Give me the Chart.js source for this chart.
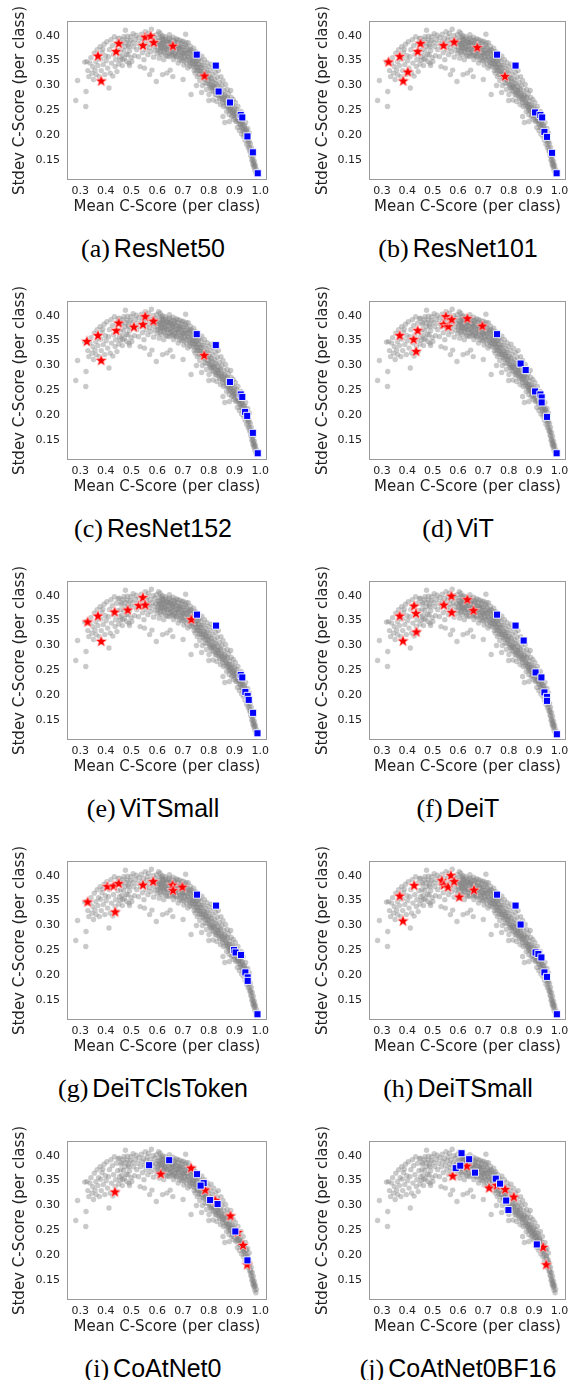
<!DOCTYPE html>
<html><head><meta charset="utf-8">
<script src="https://cdn.jsdelivr.net/npm/chart.js@4/dist/chart.umd.min.js"></script>
<style>
html,body{margin:0;padding:0;background:#fff;}
body{width:574px;height:1380px;position:relative;overflow:hidden;}
canvas.panel{position:absolute;}
.cap{position:absolute;width:287px;text-align:center;height:30px;line-height:30px;white-space:nowrap;color:#000;}
.cap .lt{font-family:"Liberation Serif";font-size:26px;}
.cap .nm{font-family:"Liberation Sans";font-size:25px;}
</style></head><body>
<script>
const panelLetters = ['a','b','c','d','e','f','g','h','i','j'];
const panelNames = ['ResNet50','ResNet101','ResNet152','ViT','ViTSmall','DeiT','DeiTClsToken','DeiTSmall','CoAtNet0','CoAtNet0BF16'];
const meanTicks = [0.3,0.4,0.5,0.6,0.7,0.8,0.9,1.0];
const stdevTicks = [0.15,0.20,0.25,0.30,0.35,0.40];
const xLabel = 'Mean C-Score (per class)';
const yLabel = 'Stdev C-Score (per class)';

// all classes (grey cloud) - same in every panel
const cloudPoints = [
[0.283,0.270],[0.290,0.310],[0.322,0.258],[0.323,0.288],[0.318,0.347],[0.326,0.348],[0.330,0.330],[0.334,0.318],[0.338,0.345],[0.342,0.356],
[0.346,0.325],[0.349,0.338],[0.352,0.312],[0.355,0.365],[0.358,0.331],[0.361,0.348],[0.362,0.322],[0.366,0.372],[0.369,0.340],[0.372,0.356],
[0.375,0.318],[0.378,0.378],[0.380,0.353],[0.382,0.330],[0.385,0.366],[0.388,0.373],[0.390,0.342],[0.393,0.383],[0.396,0.322],[0.398,0.360],
[0.401,0.350],[0.404,0.388],[0.407,0.335],[0.410,0.358],[0.412,0.295],[0.414,0.372],[0.417,0.325],[0.420,0.392],[0.422,0.345],[0.425,0.380],
[0.427,0.319],[0.430,0.362],[0.433,0.398],[0.436,0.338],[0.438,0.352],[0.441,0.385],[0.443,0.328],[0.446,0.370],[0.448,0.394],[0.450,0.343],
[0.453,0.358],[0.456,0.351],[0.459,0.383],[0.462,0.361],[0.464,0.340],[0.467,0.392],[0.469,0.371],[0.472,0.355],[0.476,0.411],[0.478,0.386],
[0.481,0.348],[0.484,0.399],[0.486,0.362],[0.489,0.378],[0.492,0.340],[0.495,0.390],[0.498,0.356],
[0.452,0.395],[0.458,0.372],[0.461,0.386],[0.466,0.352],[0.470,0.398],[0.474,0.378],[0.480,0.363],[0.483,0.391],[0.487,0.381],[0.490,0.345],[0.492,0.370],[0.497,0.398],
[0.501,0.348],[0.503,0.386],[0.506,0.404],[0.508,0.378],[0.511,0.360],[0.514,0.393],[0.518,0.401],[0.520,0.372],[0.523,0.385],[0.527,0.358],
[0.529,0.396],[0.533,0.338],[0.535,0.378],[0.538,0.403],[0.540,0.388],[0.542,0.366],[0.546,0.394],[0.548,0.352],[0.551,0.381],[0.553,0.408],
[0.556,0.372],[0.558,0.390],[0.561,0.398],[0.563,0.362],[0.566,0.405],[0.568,0.383],[0.570,0.376],[0.572,0.392],[0.575,0.368],[0.577,0.413],
[0.579,0.331],[0.581,0.386],[0.583,0.400],[0.585,0.357],[0.587,0.379],[0.590,0.395],[0.592,0.371],[0.594,0.384],[0.596,0.308],[0.597,0.402],[0.599,0.364],
[0.601,0.390],[0.603,0.377],[0.605,0.408],[0.607,0.355],[0.608,0.385],[0.610,0.396],[0.611,0.405],[0.613,0.370],[0.615,0.381],[0.617,0.362],
[0.618,0.393],[0.620,0.400],[0.622,0.374],[0.624,0.391],[0.625,0.352],[0.627,0.384],[0.629,0.366],[0.631,0.398],[0.633,0.378],[0.635,0.388],
[0.637,0.325],[0.638,0.359],[0.640,0.372],[0.642,0.393],[0.644,0.381],[0.646,0.365],[0.647,0.402],[0.649,0.386],
[0.650,0.331],[0.652,0.375],[0.654,0.391],[0.656,0.360],[0.657,0.383],[0.659,0.370],[0.661,0.397],[0.663,0.352],[0.665,0.378],[0.667,0.388],
[0.669,0.365],[0.671,0.381],[0.673,0.394],[0.675,0.357],[0.677,0.372],[0.679,0.386],[0.681,0.345],[0.683,0.368],[0.685,0.379],[0.687,0.391],
[0.689,0.360],[0.691,0.374],[0.693,0.384],[0.695,0.350],[0.697,0.366],[0.699,0.377],
[0.701,0.389],[0.703,0.341],[0.705,0.359],[0.707,0.371],[0.709,0.382],[0.710,0.403],[0.712,0.352],[0.714,0.364],[0.716,0.375],[0.718,0.335],
[0.720,0.386],[0.722,0.357],[0.724,0.368],[0.726,0.346],[0.728,0.379],[0.730,0.360],[0.731,0.282],[0.733,0.371],[0.735,0.338],[0.737,0.352],
[0.739,0.364],[0.741,0.375],[0.743,0.330],[0.745,0.345],[0.747,0.325],[0.748,0.358],[0.749,0.368],
[0.751,0.338],[0.753,0.350],[0.755,0.318],[0.757,0.362],[0.759,0.331],[0.761,0.343],[0.763,0.355],[0.765,0.310],[0.767,0.324],[0.769,0.336],
[0.771,0.348],[0.773,0.359],[0.775,0.300],[0.777,0.317],[0.779,0.329],[0.781,0.341],[0.783,0.352],[0.785,0.305],[0.787,0.322],[0.789,0.334],
[0.791,0.292],[0.793,0.346],[0.795,0.313],[0.797,0.326],[0.799,0.338],
[0.801,0.282],[0.803,0.300],[0.805,0.318],[0.807,0.330],[0.809,0.343],[0.811,0.290],[0.813,0.308],[0.815,0.322],[0.817,0.271],[0.819,0.335],
[0.821,0.297],[0.823,0.312],[0.825,0.282],[0.827,0.326],[0.829,0.303],[0.831,0.268],[0.833,0.316],[0.835,0.290],[0.837,0.330],[0.839,0.278],
[0.841,0.306],[0.843,0.295],[0.845,0.262],[0.847,0.318],[0.849,0.284],
[0.851,0.300],[0.853,0.272],[0.855,0.310],[0.857,0.258],[0.859,0.290],[0.862,0.226],[0.863,0.280],[0.865,0.302],[0.867,0.266],[0.869,0.248],
[0.871,0.292],[0.873,0.275],[0.875,0.258],[0.877,0.284],[0.879,0.242],[0.881,0.268],[0.883,0.252],[0.885,0.290],[0.887,0.276],[0.889,0.238],
[0.891,0.261],[0.893,0.248],[0.895,0.272],[0.897,0.232],[0.899,0.256],
[0.901,0.244],[0.903,0.266],[0.905,0.228],[0.907,0.252],[0.909,0.238],[0.911,0.216],[0.913,0.258],[0.915,0.230],[0.917,0.244],[0.919,0.210],
[0.921,0.235],[0.923,0.222],[0.925,0.248],[0.927,0.203],[0.929,0.228],[0.931,0.214],[0.933,0.238],[0.935,0.198],[0.937,0.220],[0.939,0.207],
[0.941,0.190],[0.943,0.226],[0.945,0.212],[0.947,0.182],[0.949,0.200],
[0.951,0.214],[0.953,0.175],[0.955,0.192],[0.957,0.205],[0.959,0.168],[0.961,0.184],[0.963,0.160],[0.965,0.176],[0.967,0.150],[0.969,0.166],
[0.971,0.142],[0.973,0.158],[0.975,0.136],[0.977,0.148],[0.979,0.130],[0.981,0.140],[0.983,0.125],[0.985,0.132],
[0.602,0.372],[0.606,0.389],[0.610,0.366],[0.614,0.384],[0.618,0.376],[0.622,0.392],[0.626,0.369],[0.630,0.382],[0.634,0.361],[0.638,0.387],
[0.642,0.374],[0.646,0.358],[0.650,0.384],[0.654,0.368],[0.658,0.379],[0.662,0.362],[0.666,0.385],[0.670,0.372],[0.674,0.359],[0.678,0.380],
[0.682,0.366],[0.686,0.352],[0.690,0.378],[0.694,0.361],[0.698,0.371],[0.702,0.350],[0.706,0.366],[0.710,0.378],[0.714,0.344],[0.718,0.358],
[0.722,0.370],[0.726,0.339],[0.730,0.352],[0.734,0.362],[0.738,0.343],[0.742,0.355],[0.746,0.336],[0.750,0.348],[0.754,0.330],[0.758,0.343],
[0.762,0.322],[0.766,0.337],[0.770,0.328],[0.774,0.340],[0.778,0.315],[0.782,0.330],[0.786,0.312],[0.790,0.325],[0.794,0.304],[0.798,0.318],
[0.802,0.309],[0.806,0.296],[0.810,0.314],[0.814,0.300],[0.818,0.288],[0.822,0.305],[0.826,0.292],[0.830,0.281],[0.834,0.298],[0.838,0.285],
[0.842,0.274],[0.846,0.291],[0.850,0.279],[0.854,0.266],[0.858,0.282],[0.862,0.270],[0.866,0.259],[0.870,0.276],[0.874,0.263],[0.878,0.251],
[0.882,0.262],[0.886,0.248],[0.890,0.257],[0.894,0.240],[0.898,0.250],[0.902,0.236],[0.906,0.246],[0.910,0.229],[0.914,0.240],[0.918,0.223],
[0.922,0.232],[0.926,0.216],[0.930,0.226],[0.934,0.208],[0.938,0.218],[0.942,0.200],[0.946,0.210],[0.950,0.192],[0.954,0.184],[0.958,0.176],
[0.962,0.170],[0.966,0.158],[0.970,0.152],[0.974,0.144],[0.978,0.138],
[0.604,0.381],[0.612,0.375],[0.620,0.386],[0.628,0.377],[0.636,0.372],[0.644,0.386],[0.652,0.366],[0.660,0.376],[0.668,0.360],[0.676,0.369],
[0.684,0.375],[0.692,0.356],[0.700,0.364],[0.708,0.355],[0.716,0.366],[0.724,0.349],[0.732,0.344],[0.740,0.350],[0.748,0.342],[0.756,0.336],
[0.764,0.330],[0.772,0.322],[0.780,0.322],[0.788,0.318],[0.796,0.311],[0.804,0.303],[0.812,0.296],[0.820,0.297],[0.828,0.286],[0.836,0.290],
[0.844,0.281],[0.852,0.273],[0.860,0.276],[0.868,0.265],[0.876,0.257],[0.884,0.255],[0.892,0.246],[0.900,0.242],[0.908,0.238],[0.916,0.231],
[0.924,0.224],[0.932,0.217],[0.940,0.209],[0.948,0.197],[0.956,0.188],[0.964,0.166],[0.972,0.148],[0.976,0.140],
[0.616,0.398],[0.632,0.394],[0.648,0.395],[0.664,0.391],[0.680,0.392],[0.696,0.388],[0.712,0.386],[0.728,0.372],[0.744,0.366],[0.760,0.352],
[0.550,0.335],[0.570,0.322],[0.620,0.322],[0.660,0.318],[0.700,0.312],[0.752,0.300],[0.772,0.286],[0.800,0.270],[0.855,0.238],[0.880,0.228]
];

// highlighted classes (red stars) per panel
const starPoints = [
[[0.369,0.360],[0.382,0.310],[0.440,0.369],[0.450,0.385],[0.544,0.381],[0.553,0.398],[0.574,0.400],[0.586,0.387],[0.660,0.380],[0.783,0.320]],
[[0.326,0.348],[0.370,0.359],[0.402,0.328],[0.384,0.310],[0.441,0.369],[0.452,0.385],[0.543,0.381],[0.585,0.388],[0.676,0.377],[0.785,0.319]],
[[0.326,0.349],[0.369,0.361],[0.382,0.311],[0.440,0.371],[0.450,0.386],[0.509,0.378],[0.544,0.383],[0.553,0.399],[0.585,0.390],[0.782,0.321]],
[[0.370,0.361],[0.425,0.353],[0.441,0.371],[0.435,0.329],[0.552,0.399],[0.543,0.383],[0.562,0.379],[0.575,0.393],[0.637,0.395],[0.696,0.380]],
[[0.329,0.348],[0.369,0.360],[0.382,0.309],[0.434,0.368],[0.485,0.372],[0.528,0.381],[0.544,0.397],[0.553,0.382],[0.732,0.353]],
[[0.370,0.360],[0.383,0.310],[0.427,0.380],[0.434,0.365],[0.436,0.328],[0.544,0.382],[0.574,0.400],[0.575,0.367],[0.637,0.393],[0.661,0.371]],
[[0.329,0.348],[0.406,0.379],[0.430,0.380],[0.450,0.385],[0.436,0.328],[0.544,0.382],[0.584,0.389],[0.659,0.382],[0.661,0.371],[0.697,0.378]],
[[0.370,0.360],[0.383,0.310],[0.427,0.381],[0.536,0.391],[0.544,0.382],[0.561,0.378],[0.572,0.401],[0.585,0.389],[0.605,0.358],[0.663,0.372]],
[[0.435,0.328],[0.613,0.364],[0.731,0.376],[0.786,0.332],[0.825,0.311],[0.884,0.280],[0.912,0.247],[0.933,0.221],[0.949,0.182]],
[[0.579,0.360],[0.635,0.380],[0.723,0.336],[0.753,0.341],[0.786,0.333],[0.820,0.318],[0.936,0.217],[0.948,0.182]]
];

// highlighted classes (blue squares) per panel
const squarePoints = [
[[0.753,0.362],[0.827,0.340],[0.838,0.288],[0.882,0.266],[0.924,0.241],[0.930,0.236],[0.950,0.198],[0.971,0.166],[0.990,0.124]],
[[0.754,0.362],[0.827,0.340],[0.904,0.246],[0.925,0.241],[0.932,0.236],[0.941,0.207],[0.951,0.197],[0.971,0.165],[0.989,0.124]],
[[0.753,0.363],[0.827,0.341],[0.882,0.267],[0.924,0.242],[0.930,0.237],[0.941,0.207],[0.949,0.199],[0.971,0.165],[0.990,0.124]],
[[0.754,0.363],[0.847,0.304],[0.867,0.291],[0.904,0.248],[0.925,0.242],[0.930,0.236],[0.930,0.226],[0.951,0.197],[0.989,0.124]],
[[0.754,0.362],[0.828,0.340],[0.924,0.241],[0.930,0.236],[0.942,0.207],[0.951,0.199],[0.955,0.191],[0.972,0.165],[0.989,0.124]],
[[0.754,0.362],[0.827,0.340],[0.859,0.310],[0.906,0.246],[0.929,0.236],[0.941,0.206],[0.951,0.197],[0.951,0.189],[0.990,0.122]],
[[0.754,0.362],[0.828,0.340],[0.898,0.251],[0.904,0.246],[0.925,0.241],[0.942,0.206],[0.951,0.196],[0.951,0.189],[0.989,0.122]],
[[0.754,0.362],[0.827,0.340],[0.847,0.302],[0.906,0.246],[0.917,0.243],[0.929,0.236],[0.941,0.206],[0.951,0.197],[0.990,0.122]],
[[0.568,0.381],[0.646,0.391],[0.754,0.363],[0.780,0.345],[0.768,0.340],[0.805,0.311],[0.834,0.303],[0.903,0.248],[0.950,0.190]],
[[0.614,0.405],[0.591,0.375],[0.609,0.380],[0.644,0.393],[0.667,0.366],[0.749,0.354],[0.766,0.344],[0.790,0.310],[0.799,0.291],[0.911,0.222]]
];

const toXY = arr => arr.map(p => ({x: p[0], y: p[1]}));

function makeStar() {
  const c = document.createElement('canvas');
  c.width = 16; c.height = 16;
  const g = c.getContext('2d');
  const R = 6.6, r = R * 0.40;
  g.beginPath();
  for (let i = 0; i < 10; i++) {
    const a = -Math.PI / 2 + i * Math.PI / 5;
    const rad = (i % 2) ? r : R;
    g.lineTo(8 + rad * Math.cos(a), 8.5 + rad * Math.sin(a));
  }
  g.closePath();
  g.fillStyle = '#ff0000';
  g.fill();
  g.lineWidth = 0.7;
  g.strokeStyle = 'rgba(255,255,255,0.85)';
  g.stroke();
  return c;
}
const starImg = makeStar();

const framePlugin = {
  id: 'frame',
  afterDatasetsDraw(chart) {
    const {ctx, chartArea: a} = chart;
    ctx.save();
    ctx.strokeStyle = '#9a9a9a';
    ctx.lineWidth = 1;
    ctx.strokeRect(a.left + 0.5, a.top + 0.5, a.right - a.left - 1, a.bottom - a.top - 1);
    ctx.restore();
  }
};

const rowTops = [0, 280, 560, 840, 1120];
const tickFont = {family: 'DejaVu Sans', size: 11};
const titleFont = {family: 'DejaVu Sans', size: 15, lineHeight: 1.2};
const textColor = '#222222';

for (let i = 0; i < 10; i++) {
  const col = i % 2, row = Math.floor(i / 2);
  const cv = document.createElement('canvas');
  cv.className = 'panel';
  cv.width = 287; cv.height = 230;
  cv.style.left = (col * 287) + 'px';
  cv.style.top = rowTops[row] + 'px';
  document.body.appendChild(cv);

  const yAxisWidth = col ? 82 : 67;
  const yTitlePad = col ? 27.5 : 11;

  new Chart(cv.getContext('2d'), {
    type: 'scatter',
    data: {
      datasets: [
        {label: 'squares', data: toXY(squarePoints[i]), pointStyle: 'rect', pointRadius: 5,
         backgroundColor: '#0000ff', borderColor: 'rgba(255,255,255,0.9)', borderWidth: 1, order: 0},
        {label: 'stars', data: toXY(starPoints[i]), pointStyle: starImg, pointRadius: 7, order: 1},
        {label: 'all', data: toXY(cloudPoints), pointStyle: 'circle', pointRadius: 2.7,
         backgroundColor: 'rgba(128,128,128,0.42)', borderWidth: 0, order: 2}
      ]
    },
    options: {
      responsive: false, animation: false, events: [],
      layout: {padding: {top: 21, right: col ? 6 : 20, bottom: 0, left: 0}},
      plugins: {legend: {display: false}, tooltip: {enabled: false}},
      scales: {
        x: {
          type: 'linear', min: 0.249, max: 1.026,
          grid: {display: false, drawTicks: false}, border: {display: false},
          afterBuildTicks: a => { a.ticks = meanTicks.map(v => ({value: v})); },
          afterFit: a => { a.height = 50; },
          ticks: {padding: 5, autoSkip: false, maxRotation: 0, font: tickFont, color: textColor,
                  callback: v => Number(v).toFixed(1)},
          title: {display: true, text: xLabel, font: titleFont, color: textColor, padding: {top: 0, bottom: 13.5}}
        },
        y: {
          type: 'linear', min: 0.1105, max: 0.4295,
          grid: {display: false, drawTicks: false}, border: {display: false},
          afterBuildTicks: a => { a.ticks = stdevTicks.map(v => ({value: v})); },
          afterFit: a => { a.width = yAxisWidth; },
          ticks: {padding: 7, autoSkip: false, font: tickFont, color: textColor,
                  callback: v => Number(v).toFixed(2)},
          title: {display: true, text: yLabel, font: titleFont, color: textColor, padding: {top: yTitlePad, bottom: 0}}
        }
      }
    },
    plugins: [framePlugin]
  });

  const cap = document.createElement('div');
  cap.className = 'cap';
  cap.style.left = ((col ? 458 : 153) - 143.5) + 'px';
  cap.style.top = (rowTops[row] + 233) + 'px';
  cap.innerHTML = '<span class="lt">(' + panelLetters[i] + ')</span> <span class="nm">' + panelNames[i] + '</span>';
  document.body.appendChild(cap);
}
</script>
</body></html>
